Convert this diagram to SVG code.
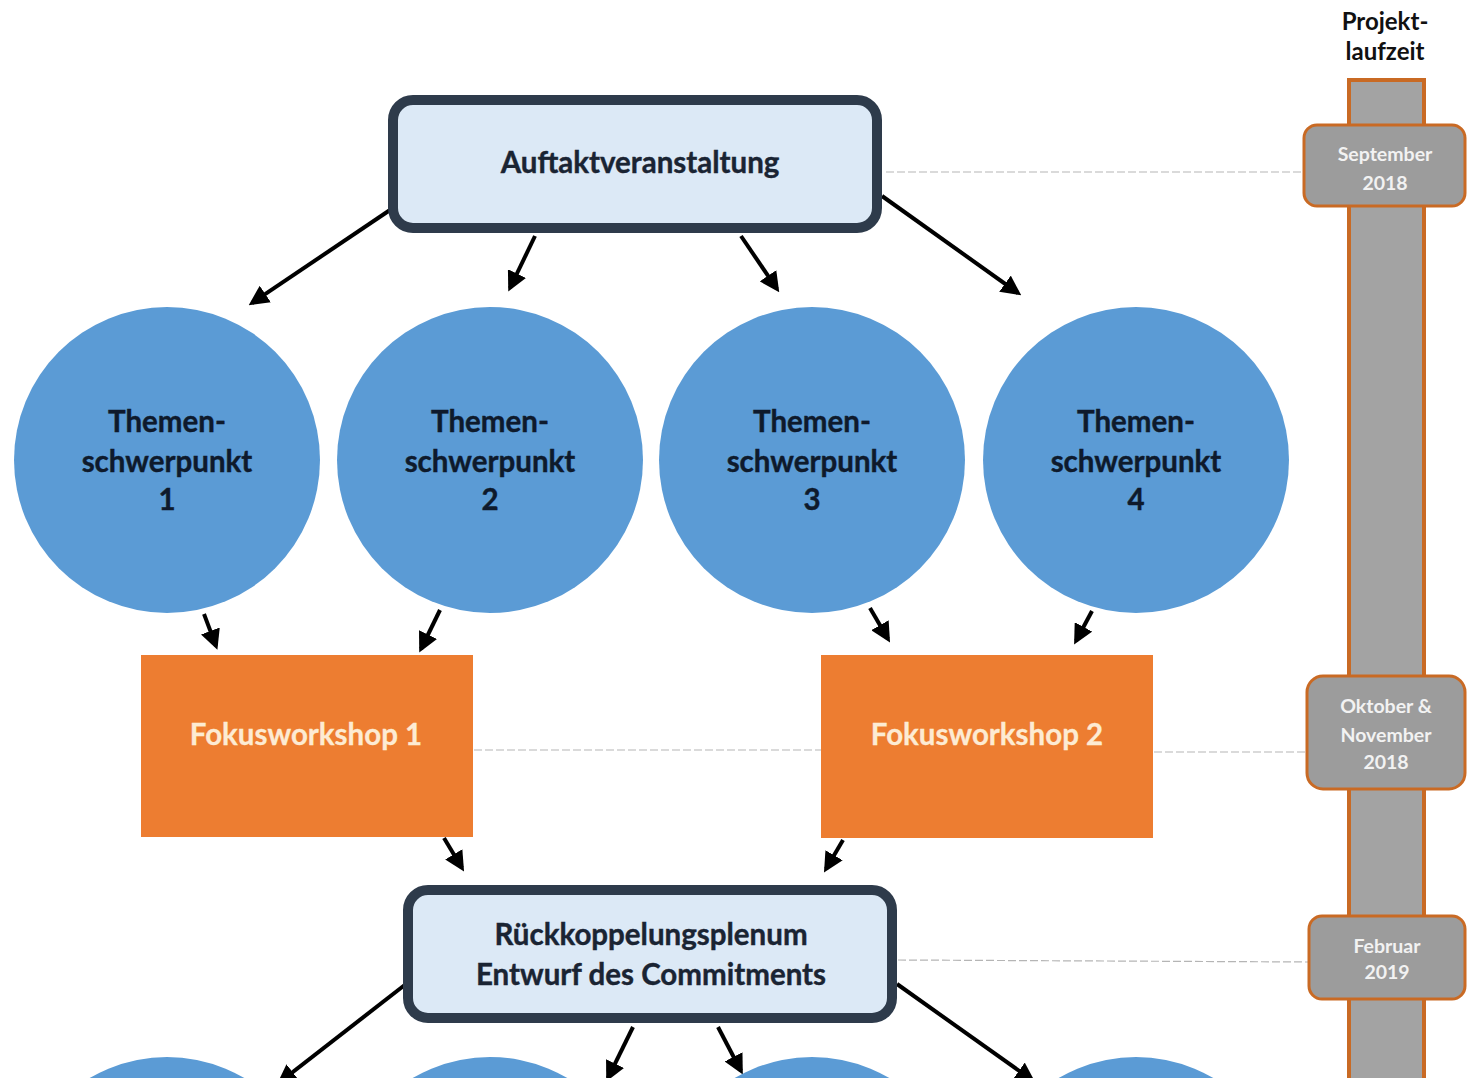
<svg xmlns="http://www.w3.org/2000/svg" width="1468" height="1078" viewBox="0 0 1468 1078">
<style>
.t{font-family:Lato,"Liberation Sans",sans-serif;font-weight:bold;text-anchor:middle}
.box{fill:#dce9f6;stroke:#2e3b4b;stroke-width:10}
.btext{font-size:29.5px;fill:#1a2433;stroke:#1a2433;stroke-width:0.4}
.circ{fill:#5b9bd5}
.ctext{font-size:29.5px;fill:#0e1a2c;stroke:#0e1a2c;stroke-width:0.4}
.fw{fill:#ed7d31}
.fwtext{font-size:29.5px;fill:#fdebd3;stroke:#fdebd3;stroke-width:0.3}
.tl{fill:#9c9c9c;stroke:#c96a24;stroke-width:3}
.tltext{font-size:19.5px;fill:#f2f2f2}
.arr{stroke:#000;stroke-width:4;fill:none;marker-end:url(#ah)}
.dash{stroke:#b5b5b5;stroke-width:1.2;stroke-dasharray:8 3;fill:none}
</style>
<defs>
<marker id="ah" viewBox="0 0 10 10" refX="8" refY="5" markerWidth="5" markerHeight="5" orient="auto" markerUnits="strokeWidth">
<path d="M0,0 L10,5 L0,10 z" fill="#000"/>
</marker>
</defs>
<rect width="1468" height="1078" fill="#fff"/>

<g id="timeline">
<text class="t" x="1385" y="30" font-size="24" fill="#111">Projekt-</text>
<text class="t" x="1385" y="60" font-size="24" fill="#111">laufzeit</text>
<rect x="1349" y="80" width="75" height="1010" fill="#a3a3a3" stroke="#c96a24" stroke-width="4"/>
</g>

<g id="connectors">
<line class="dash" x1="886" y1="172" x2="1303" y2="172"/>
<line class="dash" x1="474" y1="750" x2="821" y2="750"/>
<line class="dash" x1="1154" y1="752" x2="1306" y2="752"/>
<line class="dash" x1="898" y1="960" x2="1308" y2="962"/>
<line class="arr" x1="390" y1="210" x2="252" y2="303"/>
<line class="arr" x1="535" y1="236" x2="510" y2="288"/>
<line class="arr" x1="741" y1="236" x2="777" y2="289"/>
<line class="arr" x1="882" y1="196" x2="1018" y2="293"/>
<line class="arr" x1="204" y1="614" x2="216" y2="646"/>
<line class="arr" x1="440" y1="610" x2="421" y2="649"/>
<line class="arr" x1="870" y1="608" x2="888" y2="639"/>
<line class="arr" x1="1092" y1="611" x2="1076" y2="641"/>
<line class="arr" x1="444" y1="838" x2="462" y2="868"/>
<line class="arr" x1="843" y1="840" x2="826" y2="869"/>
<line class="arr" x1="406" y1="984" x2="280" y2="1082"/>
<line class="arr" x1="633" y1="1027" x2="608" y2="1078"/>
<line class="arr" x1="718" y1="1027" x2="741" y2="1071"/>
<line class="arr" x1="897" y1="984" x2="1032" y2="1080"/>
</g>

<g id="n_auftakt">
<rect class="box" x="393" y="100" width="484" height="128" rx="20"/>
<text class="t btext" x="640" y="173">Auftaktveranstaltung</text>
</g>

<g id="n_ts1">
<circle class="circ" cx="167" cy="460" r="153"/>
<text class="t ctext" x="167" y="432">Themen-</text>
<text class="t ctext" x="167" y="472">schwerpunkt</text>
<text class="t ctext" x="167" y="510">1</text>
</g>
<g id="n_ts2">
<circle class="circ" cx="490" cy="460" r="153"/>
<text class="t ctext" x="490" y="432">Themen-</text>
<text class="t ctext" x="490" y="472">schwerpunkt</text>
<text class="t ctext" x="490" y="510">2</text>
</g>
<g id="n_ts3">
<circle class="circ" cx="812" cy="460" r="153"/>
<text class="t ctext" x="812" y="432">Themen-</text>
<text class="t ctext" x="812" y="472">schwerpunkt</text>
<text class="t ctext" x="812" y="510">3</text>
</g>
<g id="n_ts4">
<circle class="circ" cx="1136" cy="460" r="153"/>
<text class="t ctext" x="1136" y="432">Themen-</text>
<text class="t ctext" x="1136" y="472">schwerpunkt</text>
<text class="t ctext" x="1136" y="510">4</text>
</g>

<g id="n_fw1">
<rect class="fw" x="141" y="655" width="332" height="182"/>
<text class="t fwtext" x="306" y="745">Fokusworkshop 1</text>
</g>
<g id="n_fw2">
<rect class="fw" x="821" y="655" width="332" height="183"/>
<text class="t fwtext" x="987" y="745">Fokusworkshop 2</text>
</g>

<g id="n_plenum">
<rect class="box" x="408" y="890" width="484" height="128" rx="20"/>
<text class="t btext" x="651" y="945">Rückkoppelungsplenum</text>
<text class="t btext" x="651" y="985">Entwurf des Commitments</text>
</g>

<g id="n_bottom_circles">
<circle class="circ" cx="167" cy="1210" r="153"/>
<circle class="circ" cx="490" cy="1210" r="153"/>
<circle class="circ" cx="812" cy="1210" r="153"/>
<circle class="circ" cx="1136" cy="1210" r="153"/>
</g>

<g id="n_sep">
<rect class="tl" x="1304" y="125" width="161" height="81" rx="13"/>
<text class="t tltext" x="1385" y="161">September</text>
<text class="t tltext" x="1385" y="190">2018</text>
</g>
<g id="n_okt">
<rect class="tl" x="1307" y="676" width="158" height="113" rx="16"/>
<text class="t tltext" x="1386" y="713">Oktober &amp;</text>
<text class="t tltext" x="1386" y="742">November</text>
<text class="t tltext" x="1386" y="769">2018</text>
</g>
<g id="n_feb">
<rect class="tl" x="1309" y="916" width="156" height="83" rx="13"/>
<text class="t tltext" x="1387" y="953">Februar</text>
<text class="t tltext" x="1387" y="979">2019</text>
</g>
</svg>
